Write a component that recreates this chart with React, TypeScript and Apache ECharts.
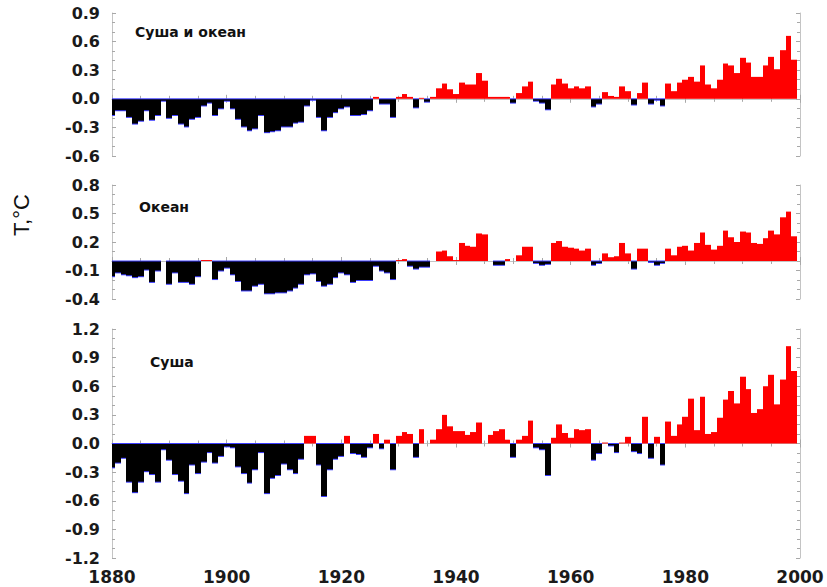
import React, { useEffect, useRef } from "react";
import * as echarts from "echarts";

const startYear = 1880;
const xTicks = [1880, 1900, 1920, 1940, 1960, 1980, 2000];

const landOcean = [
  -0.17, -0.12, -0.12, -0.19, -0.26, -0.23, -0.12, -0.22, -0.17, -0.02,
  -0.20, -0.17, -0.26, -0.29, -0.21, -0.19, -0.07, -0.04, -0.17, -0.10,
  -0.02, -0.10, -0.21, -0.29, -0.33, -0.31, -0.17, -0.35, -0.34, -0.33,
  -0.29, -0.29, -0.25, -0.24, -0.07, -0.01, -0.19, -0.33, -0.19, -0.14,
  -0.10, -0.08, -0.17, -0.17, -0.16, -0.12, 0.02, -0.05, -0.05, -0.19,
  0.02, 0.05, 0.02, -0.09, 0.01, -0.03, 0.02, 0.11, 0.16, 0.10,
  0.05, 0.17, 0.15, 0.15, 0.27, 0.19, 0.02, 0.02, 0.02, 0.02,
  -0.04, 0.06, 0.13, 0.18, -0.02, -0.04, -0.11, 0.15, 0.21, 0.16,
  0.11, 0.13, 0.11, 0.13, -0.08, -0.05, 0.07, 0.03, 0.02, 0.13,
  0.08, -0.06, 0.06, 0.17, -0.05, -0.01, -0.07, 0.16, 0.08, 0.17,
  0.20, 0.23, 0.18, 0.35, 0.15, 0.11, 0.20, 0.37, 0.35, 0.27,
  0.43, 0.38, 0.23, 0.23, 0.35, 0.44, 0.31, 0.51, 0.66, 0.41,
];

const ocean = [
  -0.16, -0.12, -0.14, -0.15, -0.17, -0.16, -0.09, -0.22, -0.10, 0.0,
  -0.24, -0.12, -0.22, -0.22, -0.24, -0.16, 0.01, 0.01, -0.19, -0.10,
  -0.07, -0.14, -0.21, -0.31, -0.31, -0.26, -0.24, -0.34, -0.34, -0.33,
  -0.33, -0.31, -0.28, -0.24, -0.14, -0.13, -0.21, -0.26, -0.24, -0.17,
  -0.12, -0.14, -0.22, -0.20, -0.20, -0.20, -0.05, -0.10, -0.12, -0.19,
  0.01, 0.02, -0.05, -0.08, -0.06, -0.06, 0.0, 0.10, 0.11, 0.05,
  0.01, 0.19, 0.16, 0.15, 0.29, 0.28, 0.0, -0.04, -0.04, 0.02,
  0.0, 0.06, 0.15, 0.15, -0.02, -0.04, -0.03, 0.19, 0.21, 0.15,
  0.14, 0.13, 0.11, 0.13, -0.04, -0.02, 0.08, 0.04, 0.05, 0.19,
  0.08, -0.08, 0.13, 0.13, -0.01, -0.04, -0.02, 0.13, 0.06, 0.15,
  0.16, 0.11, 0.19, 0.30, 0.17, 0.12, 0.16, 0.32, 0.25, 0.20,
  0.31, 0.30, 0.19, 0.18, 0.24, 0.32, 0.28, 0.46, 0.52, 0.26,
];

const land = [
  -0.25, -0.20, -0.15, -0.40, -0.51, -0.40, -0.29, -0.32, -0.40, -0.06,
  -0.17, -0.32, -0.39, -0.52, -0.22, -0.31, -0.19, -0.09, -0.20, -0.13,
  -0.03, -0.04, -0.24, -0.31, -0.41, -0.27, -0.09, -0.52, -0.36, -0.33,
  -0.21, -0.27, -0.31, -0.16, 0.08, 0.08, -0.22, -0.55, -0.27, -0.16,
  -0.13, 0.08, -0.10, -0.11, -0.14, -0.04, 0.10, -0.05, 0.04, -0.27,
  0.08, 0.12, 0.10, -0.14, 0.15, 0.0, 0.04, 0.15, 0.30, 0.18,
  0.13, 0.13, 0.09, 0.12, 0.22, 0.0, 0.09, 0.13, 0.15, 0.04,
  -0.14, 0.04, 0.08, 0.24, -0.04, -0.06, -0.33, 0.06, 0.20, 0.11,
  0.06, 0.15, 0.14, 0.15, -0.17, -0.10, 0.01, -0.02, -0.09, 0.01,
  0.07, -0.08, -0.10, 0.28, -0.15, 0.07, -0.22, 0.23, 0.08, 0.20,
  0.28, 0.47, 0.14, 0.49, 0.10, 0.12, 0.27, 0.46, 0.55, 0.42,
  0.70, 0.57, 0.32, 0.36, 0.60, 0.72, 0.41, 0.67, 1.02, 0.76,
];

const panelNames = ["Суша и океан", "Океан", "Суша"];
const yMins = [-0.6, -0.4, -1.2];
const yMaxs = [0.9, 0.8, 1.2];
const yInterval = 0.3;
const yTitle = "T,°C";

const grids = [
  { left: 112, right: 27, top: 13, height: 143 },
  { left: 112, right: 27, top: 185, height: 114 },
  { left: 112, right: 27, top: 329, height: 229 },
];
const labelPos = [
  [135, 33],
  [139, 208],
  [150, 363],
];

const frameColor = "#c4c4c4";
const tickColor = "#a8a8a8";

function renderBar(params: any, api: any) {
  const yr = api.value(0);
  const v = api.value(1);
  const cs = params.coordSys;
  const a = api.coord([yr - 0.5, 0]);
  const b = api.coord([yr + 0.5, v]);
  const x0 = Math.round(Math.max(a[0], cs.x));
  const x1 = Math.round(Math.min(b[0], cs.x + cs.width));
  const top = Math.min(a[1], b[1]);
  const h = Math.abs(b[1] - a[1]);
  if (h < 0.5 || x1 <= x0) return null;
  if (v >= 0) {
    return {
      type: "rect",
      shape: { x: x0, y: top, width: x1 - x0, height: h },
      style: { fill: "#ff0000" },
    };
  }
  return {
    type: "group",
    children: [
      {
        type: "rect",
        shape: { x: x0, y: top - 0.5, width: x1 - x0, height: h + 1.5 },
        style: { fill: "#3c3cff" },
      },
      {
        type: "rect",
        shape: { x: x0, y: top + 0.5, width: x1 - x0, height: Math.max(h - 0.5, 0) },
        style: { fill: "#000000" },
      },
    ],
  };
}

const fmtY = (v: number) => (Math.abs(v) < 1e-9 ? "0.0" : v.toFixed(1));

export default function App() {
  const ref = useRef<HTMLDivElement>(null);
  useEffect(() => {
    if (!ref.current) return;
    const chart = echarts.init(ref.current, null, { renderer: "svg" });
    const datasets = [landOcean, ocean, land];
    const xAxis: any[] = [];
    const yAxis: any[] = [];
    const series: any[] = [];
    datasets.forEach((vals, i) => {
      const isBottom = i === 2;
      const baseX = {
        type: "value",
        gridIndex: i,
        min: xTicks[0],
        max: xTicks[xTicks.length - 1],
        interval: 20,
        axisLine: { show: true, lineStyle: { color: frameColor, width: 1 } },
        axisTick: { show: true, inside: true, length: 4, lineStyle: { color: tickColor } },
        minorTick: { show: true, splitNumber: 4, length: 3, lineStyle: { color: tickColor } },
        splitLine: { show: false },
      };
      xAxis.push({
        ...baseX,
        position: "bottom",
        axisLabel: {
          show: isBottom,
          margin: 10,
          fontFamily: "DejaVu Sans",
          fontWeight: "bold",
          fontSize: 17,
          color: "#1a1a1a",
          formatter: (v: number) => String(v),
        },
      });
      xAxis.push({ ...baseX, position: "top", axisLabel: { show: false } });
      const baseY = {
        type: "value",
        gridIndex: i,
        min: yMins[i],
        max: yMaxs[i],
        interval: yInterval,
        axisLine: { show: true, lineStyle: { color: frameColor, width: 1 } },
        axisTick: { show: true, inside: true, length: 4, lineStyle: { color: tickColor } },
        minorTick: { show: true, splitNumber: 3, length: 3, lineStyle: { color: tickColor } },
        splitLine: { show: false },
      };
      yAxis.push({
        ...baseY,
        position: "left",
        axisLabel: {
          show: true,
          margin: 12,
          fontFamily: "DejaVu Sans",
          fontWeight: "bold",
          fontSize: 16,
          color: "#1a1a1a",
          formatter: fmtY,
        },
      });
      yAxis.push({ ...baseY, position: "right", axisLabel: { show: false } });
      series.push({
        type: "custom",
        xAxisIndex: i * 2,
        yAxisIndex: i * 2,
        renderItem: renderBar,
        encode: { x: 0, y: 1 },
        clip: true,
        data: vals.map((v, k) => [startYear + k, v]),
      });
    });

    const graphic: any[] = panelNames.map((name, i) => ({
      type: "text",
      left: labelPos[i][0],
      top: labelPos[i][1] - 8,
      style: {
        text: name,
        fontFamily: "DejaVu Sans",
        fontWeight: "bold",
        fontSize: 14,
        fill: "#111",
      },
    }));
    graphic.push({
      type: "text",
      x: 21,
      y: 215,
      rotation: Math.PI / 2,
      style: {
        text: yTitle,
        fontFamily: "Liberation Sans",
        fontSize: 22,
        fill: "#111",
        align: "center",
        verticalAlign: "middle",
      },
    });

    chart.setOption({
      animation: false,
      backgroundColor: "#ffffff",
      grid: grids,
      xAxis,
      yAxis,
      series,
      graphic,
    });
    return () => chart.dispose();
  }, []);
  return (
    <div
      ref={ref}
      style={{ position: "absolute", left: 0, top: 0, width: 827, height: 587 }}
    />
  );
}
